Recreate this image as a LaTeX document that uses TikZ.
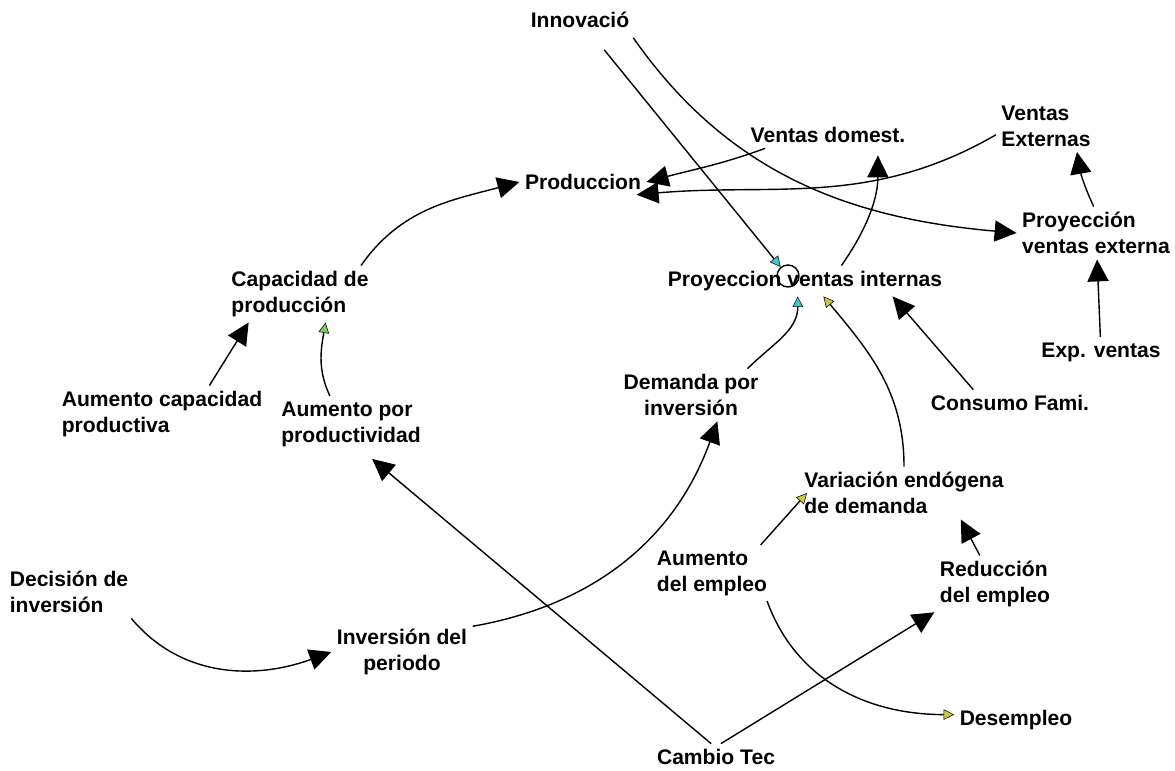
\documentclass[tikz,border=0pt]{standalone}
\usepackage{fontspec}
\setmainfont{Liberation Sans}
\usetikzlibrary{arrows.meta,positioning}

\definecolor{tipteal}{RGB}{64,200,208}
\definecolor{tipolive}{RGB}{200,200,70}
\definecolor{tipgreen}{RGB}{130,195,100}

\begin{document}
\begin{tikzpicture}[x=0.02cm,y=0.02cm,
   var/.style={font=\fontsize{12}{14.8}\selectfont\bfseries,inner sep=3pt,align=left},
   link/.style={line width=0.8pt,-{Triangle[length=12.5pt,width=12pt]}},
   tealtip/.style={line width=0.8pt,-{Triangle[length=6pt,width=6pt,fill=tipteal,line width=0.3pt]}},
   olivetip/.style={line width=0.8pt,-{Triangle[length=6pt,width=6pt,fill=tipolive,line width=0.3pt]}},
   greentip/.style={line width=0.8pt,-{Triangle[length=6pt,width=6pt,fill=tipgreen,line width=0.3pt]}}]
   \useasboundingbox (0,0) rectangle (1175,-770);
   \node[var]              (innov)   at (580,-20)    {Innovació};
   \node[var]              (vdom)    at (828,-135)   {Ventas domest.};
   \node[var]              (prod)    at (583,-182)   {Produccion};
   \node[var]              (vext)    at (1046,-126)  {Ventas\\Externas};
   \node[var]              (pve)     at (1096,-233)  {Proyección\\ventas externa};
   \node[var]              (pvi)     at (805,-281)   {Proyeccion ventas internas};
   \node[var]              (capprod) at (300,-294)   {Capacidad de\\producción};
   \node[var]              (aumcap)  at (162,-414)   {Aumento capacidad\\productiva};
   \node[var]              (aumprod) at (351,-424)   {Aumento por\\productividad};
   \node[var,align=center] (dinv)    at (691,-395)   {Demanda por\\inversión};
   \node[var]              (consumo) at (1010,-403)  {Consumo Fami.};
   \node[var]              (expv)    at (1101,-352)  {Exp. ventas};
   \node[var]              (vend)    at (904,-493)   {Variación endógena\\de demanda};
   \node[var]              (decinv)  at (69,-592)    {Decisión de\\inversión};
   \node[var]              (aumemp)  at (712,-573)   {Aumento\\del empleo};
   \node[var]              (redemp)  at (995,-584)   {Reducción\\del empleo};
   \node[var,align=center] (invper)  at (402,-652)   {Inversión del\\periodo};
   \node[var]              (desemp)  at (1016,-720)  {Desempleo};
   \node[var]              (cambio)  at (716,-757)   {Cambio Tec};
   \node[circle,draw,line width=0.8pt,minimum size=0.44cm,inner sep=0pt] (hub) at (788,-276) {};
   % lazos principales
   \path[link]
   (innov.-15)   edge[out=-55,in=175,shorten <=3pt]  (pve.180)
   (vdom.192)    edge[out=200,in=15]   (prod.0)
   (vext.190)    edge[out=210,in=5,shorten >=4pt]  (prod.-16)
   (pvi.23)      edge[out=55,in=-90,shorten >=4pt] (vdom.-15)
   (consumo.160) edge                  (pvi.-10)
   (expv)        edge                  (pve)
   (pve.95)      edge[out=115,in=-80]  (vext.-40)
   (capprod.25)  edge[out=55,in=195]   (prod.180)
   (aumcap.31)   edge                  (capprod.-151)
   (cambio.110)  edge[shorten >=6pt]   (aumprod.-65)
   (cambio.70)   edge                  (redemp.-155)
   (invper.20)   edge[out=10,in=-110]  (dinv.-45)
   (decinv.-23)  edge[out=-50,in=200]  (invper.180)
   (redemp.118)  edge                  (vend.-25);
   % puntas chicas
   \path[tealtip]
   (innov)       edge[shorten <=12pt]  (hub)
   (dinv.25)     edge[out=45,in=-90]   (pvi.-115);
   \path[olivetip]
   (vend.90)     edge[out=90,in=-50]   (pvi.-40)
   (aumemp.30)   edge[shorten >=-7pt]  (vend.185)
   (aumemp.-27)  edge[out=-70,in=180]  (desemp.175);
   \path[greentip]
   (aumprod.127) edge[out=115,in=-100] (capprod.-48);
\end{tikzpicture}
\end{document}
